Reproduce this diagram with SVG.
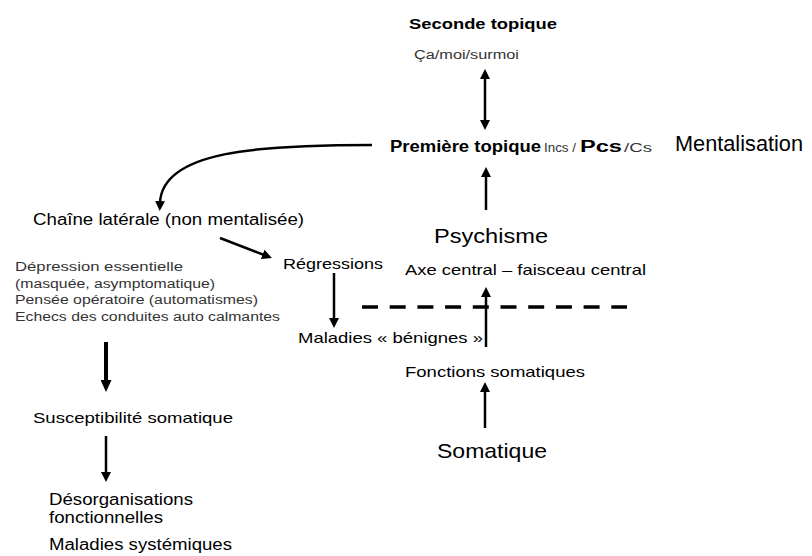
<svg xmlns="http://www.w3.org/2000/svg" width="812" height="556" viewBox="0 0 812 556">
<defs>
<style>
text{font-family:"Liberation Sans",Arial,sans-serif;fill:#000}
.b{font-weight:bold}
.g{fill:#333}
.ln{stroke:#000;stroke-width:2.5;fill:none}
</style>
<marker id="ah" markerUnits="userSpaceOnUse" markerWidth="10" markerHeight="10" refX="2" refY="5" orient="auto-start-reverse" viewBox="0 0 10 10">
<path d="M0,0 L10,5 L0,10 z" fill="#000"/>
</marker>
<marker id="ah2" markerUnits="userSpaceOnUse" markerWidth="12" markerHeight="11" refX="2" refY="5.5" orient="auto" viewBox="0 0 12 11">
<path d="M0,0 L12,5.5 L0,11 z" fill="#000"/>
</marker>
</defs>
<rect width="812" height="556" fill="#fff"/>
<g id="connectors">
<line class="ln" x1="485" y1="77" x2="485" y2="122" marker-start="url(#ah)" marker-end="url(#ah)"/>
<line class="ln" x1="486" y1="210" x2="486" y2="175" marker-end="url(#ah)"/>
<path class="ln" d="M372,145 C262,145 162,150 160,203" marker-end="url(#ah)"/>
<line class="ln" x1="220" y1="238" x2="264.5" y2="255.1" marker-end="url(#ah)"/>
<line class="ln" x1="334" y1="273" x2="334" y2="320" marker-end="url(#ah)"/>
<line class="ln" x1="486" y1="347" x2="486" y2="295" marker-end="url(#ah)"/>
<line class="ln" x1="485" y1="428" x2="485" y2="390" marker-end="url(#ah)"/>
<line class="ln" x1="106" y1="342" x2="106" y2="382" style="stroke-width:4" marker-end="url(#ah2)"/>
<line class="ln" x1="106" y1="436" x2="106" y2="474" marker-end="url(#ah)"/>
<line x1="362" y1="307" x2="627" y2="307" stroke="#000" stroke-width="3.5" stroke-dasharray="16 11.7"/>
</g>
<g id="seconde-topique">
<text class="b" x="409" y="29" font-size="15" textLength="148" lengthAdjust="spacingAndGlyphs">Seconde topique</text>
<text class="g" x="414" y="59" font-size="12" textLength="105" lengthAdjust="spacingAndGlyphs">Ça/moi/surmoi</text>
</g>
<g id="premiere-topique">
<text class="b" x="390" y="152" font-size="16" textLength="151" lengthAdjust="spacingAndGlyphs">Première topique</text>
<text class="g" x="544" y="152" font-size="12" textLength="32" lengthAdjust="spacingAndGlyphs">Incs /</text>
<text class="b" x="580" y="152" font-size="16" textLength="42" lengthAdjust="spacingAndGlyphs">Pcs</text>
<text class="g" x="624" y="152" font-size="12" textLength="28" lengthAdjust="spacingAndGlyphs">/Cs</text>
</g>
<g id="mentalisation">
<text x="675" y="151" font-size="22" textLength="128" lengthAdjust="spacingAndGlyphs">Mentalisation</text>
</g>
<g id="chaine-laterale">
<text x="33" y="225" font-size="16" textLength="271" lengthAdjust="spacingAndGlyphs">Chaîne latérale (non mentalisée)</text>
</g>
<g id="symptomes">
<text class="g" x="15" y="271" font-size="12.5" textLength="168" lengthAdjust="spacingAndGlyphs">Dépression essentielle</text>
<text class="g" x="15" y="288" font-size="12.5" textLength="200" lengthAdjust="spacingAndGlyphs">(masquée, asymptomatique)</text>
<text class="g" x="15" y="304" font-size="12.5" textLength="243" lengthAdjust="spacingAndGlyphs">Pensée opératoire (automatismes)</text>
<text class="g" x="15" y="321" font-size="12.5" textLength="265" lengthAdjust="spacingAndGlyphs">Echecs des conduites auto calmantes</text>
</g>
<g id="regressions">
<text x="283" y="269" font-size="15.5" textLength="100" lengthAdjust="spacingAndGlyphs">Régressions</text>
</g>
<g id="psychisme">
<text x="434" y="243" font-size="21" textLength="114" lengthAdjust="spacingAndGlyphs">Psychisme</text>
</g>
<g id="axe-central">
<text x="405" y="275" font-size="14.5" textLength="241" lengthAdjust="spacingAndGlyphs">Axe central – faisceau central</text>
</g>
<g id="maladies-benignes">
<text x="298" y="343" font-size="15" textLength="185" lengthAdjust="spacingAndGlyphs">Maladies « bénignes »</text>
</g>
<g id="fonctions-somatiques">
<text x="405" y="377" font-size="15" textLength="180" lengthAdjust="spacingAndGlyphs">Fonctions somatiques</text>
</g>
<g id="somatique">
<text x="437" y="458" font-size="21" textLength="110" lengthAdjust="spacingAndGlyphs">Somatique</text>
</g>
<g id="susceptibilite">
<text x="33" y="423" font-size="15" textLength="200" lengthAdjust="spacingAndGlyphs">Susceptibilité somatique</text>
</g>
<g id="desorganisations">
<text x="49" y="505" font-size="16" textLength="144" lengthAdjust="spacingAndGlyphs">Désorganisations</text>
<text x="49" y="523" font-size="16" textLength="114" lengthAdjust="spacingAndGlyphs">fonctionnelles</text>
</g>
<g id="maladies-systemiques">
<text x="49" y="550" font-size="16" textLength="183" lengthAdjust="spacingAndGlyphs">Maladies systémiques</text>
</g>
</svg>
